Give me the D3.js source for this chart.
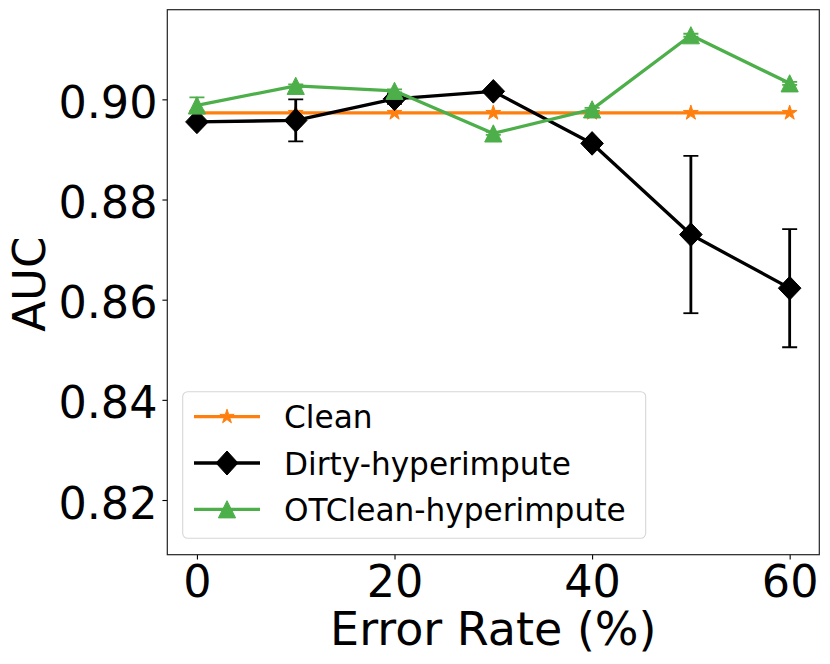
<!DOCTYPE html>
<html>
<head>
<meta charset="utf-8">
<script src="https://cdn.jsdelivr.net/npm/d3@7"></script>
<style>
  html, body { margin: 0; padding: 0; background: #fff; }
  svg { display: block; font-family: "DejaVu Sans", sans-serif; }
</style>
</head>
<body>
<svg id="chart" width="830" height="664"></svg>
<script>
// ---- data ----
const errorRates = [0, 10, 20, 30, 40, 50, 60];
const cleanAUC = [0.8973, 0.8973, 0.8973, 0.8973, 0.8973, 0.8973, 0.8973];
const dirtyAUC = [0.8955, 0.8958, 0.9001, 0.9016, 0.8912, 0.8730, 0.8623];
const dirtyErr = [0.0005, 0.0042, 0.0010, 0.0005, 0.0007, 0.0157, 0.0118];
const otcleanAUC = [0.8988, 0.9027, 0.9017, 0.8932, 0.8980, 0.9128, 0.9032];
const otcleanErr = [0.0016, 0.0003, 0.0003, 0.0003, 0.0003, 0.0003, 0.0003];
const xTicks = [0, 20, 40, 60];
const yTicks = [0.82, 0.84, 0.86, 0.88, 0.90];
const seriesNames = ["Clean", "Dirty-hyperimpute", "OTClean-hyperimpute"];
const xLabel = "Error Rate (%)";
const yLabel = "AUC";

// ---- layout ----
const svg = d3.select("#chart");
const L = 167.3, R = 819.3, T = 9.7, B = 554.7;
const x = d3.scaleLinear().domain([-3, 63]).range([L, R]);
const y = d3.scaleLinear().domain([0.80908, 0.9179]).range([B, T]);

const colors = { clean: "#ff7f0e", dirty: "#000000", ot: "#4daf4a" };
const lw = 3.3;

svg.append("rect").attr("width", 830).attr("height", 664).attr("fill", "#fff");

// axes
const xAxis = d3.axisBottom(x).tickValues(xTicks).tickFormat(d3.format("d")).tickSize(4.9).tickPadding(4.9);
const yAxis = d3.axisLeft(y).tickValues(yTicks).tickFormat(d3.format(".2f")).tickSize(4.9).tickPadding(4.9);

const gx = svg.append("g").attr("transform", `translate(0,${B})`).call(xAxis);
gx.select(".domain").remove();
gx.selectAll(".tick line").attr("stroke", "#000").attr("stroke-width", 1.1);
gx.selectAll(".tick text").attr("font-size", 44.5).attr("fill", "#000")
  .attr("dy", null).attr("y", 42.5).attr("font-family", "DejaVu Sans");

const gy = svg.append("g").attr("transform", `translate(${L},0)`).call(yAxis);
gy.select(".domain").remove();
gy.selectAll(".tick line").attr("stroke", "#000").attr("stroke-width", 1.1);
gy.selectAll(".tick text").attr("font-size", 44.5).attr("fill", "#000")
  .attr("dy", null).attr("y", 18).attr("x", -9.8).attr("font-family", "DejaVu Sans");

// clip for plot
svg.append("clipPath").attr("id", "clip").append("rect")
  .attr("x", L).attr("y", T).attr("width", R - L).attr("height", B - T);

const plot = svg.append("g").attr("clip-path", "url(#clip)");

// marker paths
function starPath(R0) {
  const r = R0 * 0.381966;
  const pts = [];
  for (let i = 0; i < 10; i++) {
    const rad = i % 2 === 0 ? R0 : r;
    const a = -Math.PI / 2 + i * Math.PI / 5;
    pts.push([rad * Math.cos(a), rad * Math.sin(a)]);
  }
  return "M" + pts.map(p => p.join(",")).join("L") + "Z";
}
function diamondPath(hw, hh) {
  return `M0,${-hh}L${hw},0L0,${hh}L${-hw},0Z`;
}
function trianglePath(h) {
  return `M0,${-h}L${h},${h}L${-h},${h}Z`;
}

const line = d3.line().x(d => x(d[0])).y(d => y(d[1]));

function drawSeries(vals, errs, color, markerPath) {
  const data = errorRates.map((e, i) => [e, vals[i], errs ? errs[i] : 0]);
  plot.append("path").datum(data).attr("d", line)
    .attr("fill", "none").attr("stroke", color).attr("stroke-width", lw)
    .attr("stroke-linejoin", "round");
  if (errs) {
    const g = plot.append("g");
    data.forEach(d => {
      const cx = x(d[0]), y0 = y(d[1] - d[2]), y1 = y(d[1] + d[2]);
      g.append("line").attr("x1", cx).attr("x2", cx).attr("y1", y0).attr("y2", y1)
        .attr("stroke", color).attr("stroke-width", 2.8);
      [y0, y1].forEach(yy => g.append("line").attr("x1", cx - 7.5).attr("x2", cx + 7.5)
        .attr("y1", yy).attr("y2", yy).attr("stroke", color).attr("stroke-width", 1.8));
    });
  }
  plot.append("g").selectAll("path").data(data).join("path")
    .attr("d", markerPath).attr("transform", d => `translate(${x(d[0])},${y(d[1])})`)
    .attr("fill", color).attr("stroke", color).attr("stroke-width", 1);
}

drawSeries(cleanAUC, null, colors.clean, starPath(7.8));
drawSeries(dirtyAUC, dirtyErr, colors.dirty, diamondPath(11.3, 11.8));
drawSeries(otcleanAUC, otcleanErr, colors.ot, trianglePath(8.6));

// spines
svg.append("rect").attr("x", L).attr("y", T).attr("width", R - L).attr("height", B - T)
  .attr("fill", "none").attr("stroke", "#222").attr("stroke-width", 1.2);

// axis labels
svg.append("text").attr("x", (L + R) / 2).attr("y", 645).attr("text-anchor", "middle")
  .attr("font-size", 46).attr("fill", "#000").text(xLabel);
svg.append("text").attr("transform", `translate(45,${(T + B) / 2 + 2}) rotate(-90)`)
  .attr("text-anchor", "middle").attr("font-size", 45).attr("fill", "#000").text(yLabel);

// legend
const lg = svg.append("g");
lg.append("rect").attr("x", 182.7).attr("y", 391.7).attr("width", 463).attr("height", 146.6)
  .attr("rx", 5).attr("ry", 5).attr("fill", "#fff").attr("fill-opacity", 0.8)
  .attr("stroke", "#d6d6d6").attr("stroke-width", 1.1);
const legendItems = [
  { name: seriesNames[0], color: colors.clean, path: starPath(7.5) },
  { name: seriesNames[1], color: colors.dirty, path: diamondPath(11, 12) },
  { name: seriesNames[2], color: colors.ot, path: trianglePath(8.6) }
];
legendItems.forEach((it, i) => {
  const ry = 416.7 + i * 46.3;
  lg.append("line").attr("x1", 194).attr("x2", 260).attr("y1", ry).attr("y2", ry)
    .attr("stroke", it.color).attr("stroke-width", lw);
  lg.append("path").attr("d", it.path).attr("transform", `translate(227,${ry})`)
    .attr("fill", it.color).attr("stroke", it.color).attr("stroke-width", 1);
  lg.append("text").attr("x", 284).attr("y", ry + 11.5).attr("font-size", 31.2)
    .attr("fill", "#000").text(it.name);
});
</script>
</body>
</html>
